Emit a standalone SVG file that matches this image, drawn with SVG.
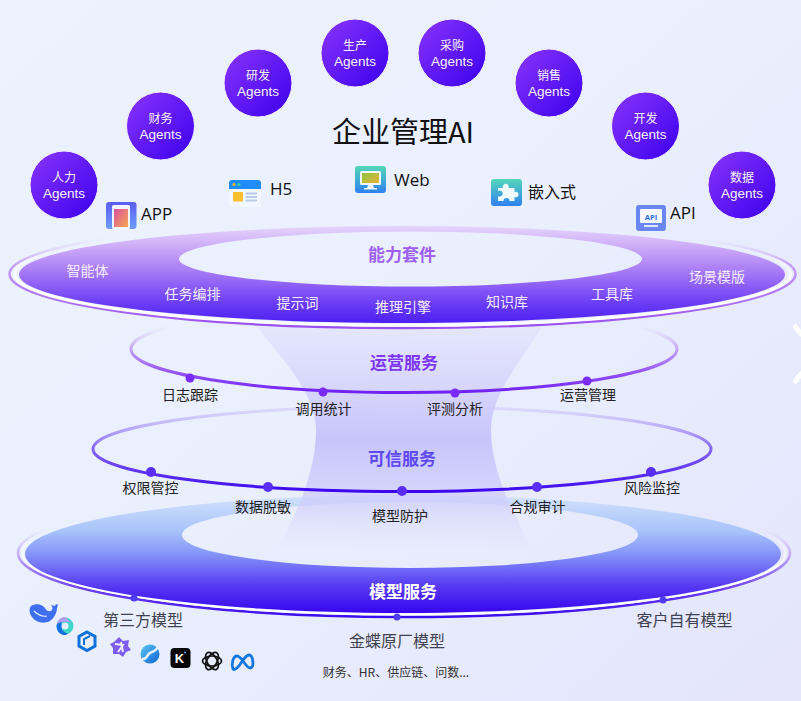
<svg xmlns="http://www.w3.org/2000/svg" width="801" height="701" viewBox="0 0 801 701">
<style>
text{font-family:"Noto Sans CJK SC","Noto Sans",sans-serif;text-anchor:middle}
.ag{fill:#fff;font-size:12px;opacity:.95}
.ag2{font-size:13.500px;font-family:"Liberation Sans",sans-serif}
.ch{fill:#111;font-size:17px;text-anchor:start;font-family:"Open Sans","Noto Sans CJK SC",sans-serif}
.bd{fill:#f4ecff;font-size:14px}
.lb{fill:#222;font-size:14px}
.md{fill:#3f4250;font-size:16px}
.hd{font-size:17px;font-weight:700}
.dot1{fill:#7a2cf6}.dot2{fill:#5a2ef5}.dot3{fill:#4f3bf0}
.circ{fill:url(#ag);stroke:#f3eeff;stroke-width:1}
</style>
<defs>
<linearGradient id="bg" x1="0" y1="0" x2="1" y2="1"><stop offset="0" stop-color="#edf3fd"/><stop offset=".5" stop-color="#e9effd"/><stop offset="1" stop-color="#e4e5fc"/></linearGradient>
<linearGradient id="ag" x1="0" y1="0" x2="1" y2="1"><stop offset="0" stop-color="#8a35fb"/><stop offset="1" stop-color="#3a00ee"/></linearGradient>
<linearGradient id="top" gradientUnits="userSpaceOnUse" x1="0" y1="226" x2="0" y2="323"><stop offset="0" stop-color="#e6d4fb"/><stop offset=".25" stop-color="#c8a4f7"/><stop offset=".5" stop-color="#a274f6"/><stop offset=".8" stop-color="#6a3cf5"/><stop offset="1" stop-color="#4d20f4"/></linearGradient>
<linearGradient id="topS" gradientUnits="userSpaceOnUse" x1="0" y1="238" x2="0" y2="328"><stop offset="0" stop-color="#d8c4f8" stop-opacity="0"/><stop offset=".3" stop-color="#c59ef5"/><stop offset="1" stop-color="#9a4df0"/></linearGradient>
<linearGradient id="topW" gradientUnits="userSpaceOnUse" x1="0" y1="248" x2="0" y2="325"><stop offset="0" stop-color="#fff" stop-opacity="0"/><stop offset=".45" stop-color="#fff" stop-opacity=".9"/></linearGradient>
<linearGradient id="disc" gradientUnits="userSpaceOnUse" x1="0" y1="495" x2="0" y2="613"><stop offset="0" stop-color="#d3e2fc"/><stop offset=".3" stop-color="#a9c4fa"/><stop offset=".5" stop-color="#8595f8"/><stop offset=".75" stop-color="#5a3ff4"/><stop offset="1" stop-color="#3605ee"/></linearGradient>
<linearGradient id="discS" gradientUnits="userSpaceOnUse" x1="0" y1="528" x2="0" y2="617"><stop offset="0" stop-color="#d8c8f8" stop-opacity="0"/><stop offset=".3" stop-color="#c4a8f5"/><stop offset=".7" stop-color="#6a3df2"/><stop offset="1" stop-color="#3a0cee"/></linearGradient>
<linearGradient id="discW" gradientUnits="userSpaceOnUse" x1="0" y1="532" x2="0" y2="615"><stop offset="0" stop-color="#fff" stop-opacity="0"/><stop offset=".45" stop-color="#fff"/></linearGradient>
<linearGradient id="r2" gradientUnits="userSpaceOnUse" x1="0" y1="326" x2="0" y2="393"><stop offset="0" stop-color="#e0d0fa" stop-opacity="0"/><stop offset=".3" stop-color="#cbb0f7"/><stop offset=".65" stop-color="#9a5cf5"/><stop offset="1" stop-color="#6f1ff4"/></linearGradient>
<linearGradient id="r3" gradientUnits="userSpaceOnUse" x1="0" y1="405" x2="0" y2="492"><stop offset="0" stop-color="#d6d0fb" stop-opacity=".5"/><stop offset=".45" stop-color="#8f72f5"/><stop offset="1" stop-color="#3a06ee"/></linearGradient>
<linearGradient id="fun" gradientUnits="userSpaceOnUse" x1="0" y1="325" x2="0" y2="550"><stop offset="0" stop-color="#e4e4fd" stop-opacity=".7"/><stop offset=".5" stop-color="#c6c2fb" stop-opacity=".95"/><stop offset=".8" stop-color="#d0cefb" stop-opacity=".7"/><stop offset="1" stop-color="#e2e2fc" stop-opacity=".05"/></linearGradient>
<linearGradient id="tealb" x1="0" y1="0" x2="0" y2="1"><stop offset="0" stop-color="#53d8b8"/><stop offset="1" stop-color="#2f80f0"/></linearGradient>
<linearGradient id="appb" x1="0" y1="0" x2="0" y2="1"><stop offset="0" stop-color="#5b5cf0"/><stop offset="1" stop-color="#6d9cf8"/></linearGradient>
<linearGradient id="appc" x1="0" y1="0" x2="1" y2="1"><stop offset="0" stop-color="#d84f9f"/><stop offset="1" stop-color="#f8a850"/></linearGradient>
<linearGradient id="webc" x1="0" y1="0" x2="1" y2="1"><stop offset="0" stop-color="#8cc63f"/><stop offset="1" stop-color="#e8b23a"/></linearGradient>
<linearGradient id="logoB" x1="0" y1="0" x2="1" y2="1"><stop offset="0" stop-color="#5fc8f0"/><stop offset="1" stop-color="#0a62d8"/></linearGradient>
</defs>
<rect width="801" height="701" fill="url(#bg)"/>
<path d="M795.500 327 L801 334 M801 374 L795.500 381" stroke="#fff" stroke-width="5" stroke-linecap="round" fill="none"/>

<g id="model-disc">
<ellipse cx="404" cy="553" rx="386" ry="64" fill="none" stroke="url(#discS)" stroke-width="2.500"/>
<ellipse cx="404" cy="553" rx="381.500" ry="61.500" fill="none" stroke="url(#discW)" stroke-width="2"/>
<path fill="url(#disc)" fill-rule="evenodd" d="M25 554a378 59 0 1 0 756 0a378 59 0 1 0-756 0ZM182 535a228 33 0 1 0 456 0a228 33 0 1 0-456 0Z"/>
</g>
<g id="funnel"><path fill="url(#fun)" d="M257 327C285 362 316 395 316 430C316 470 298 512 277 548L532 548C512 512 491 470 491 430C491 395 520 362 542 327Z"/></g>

<g id="connectors" fill="none">
<ellipse cx="404" cy="349" rx="273" ry="43.500" stroke="url(#r2)" stroke-width="3"/>
<ellipse cx="402" cy="449" rx="309" ry="42.500" stroke="url(#r3)" stroke-width="3"/>
</g>

<g id="capability-ring">
<ellipse cx="402.500" cy="274" rx="393" ry="54" fill="none" stroke="url(#topS)" stroke-width="2.500"/>
<ellipse cx="402.500" cy="274" rx="388" ry="51.500" fill="none" stroke="url(#topW)" stroke-width="3"/>
<path fill="url(#top)" fill-rule="evenodd" d="M19 274.500a383 48.500 0 1 0 766 0a383 48.500 0 1 0-766 0ZM179 259a231.500 27.500 0 1 0 463 0a231.500 27.500 0 1 0-463 0Z"/>
<text class="hd" x="402" y="261" fill="#9f5ff0">能力套件</text>
<text class="bd" x="87.500" y="276">智能体</text>
<text class="bd" x="192.500" y="299">任务编排</text>
<text class="bd" x="297.500" y="308">提示词</text>
<text class="bd" x="403" y="312">推理引擎</text>
<text class="bd" x="507" y="307">知识库</text>
<text class="bd" x="612" y="299">工具库</text>
<text class="bd" x="717" y="282">场景模版</text>
</g>

<g id="ops-service">
<text class="hd" x="404" y="369" fill="#7d37f2">运营服务</text>
<circle class="dot1" cx="190" cy="378" r="4.500"/><circle class="dot1" cx="323" cy="392" r="4.500"/><circle class="dot1" cx="455" cy="393" r="4.500"/><circle class="dot1" cx="587" cy="381" r="4.500"/>
<text class="lb" x="190" y="400">日志跟踪</text><text class="lb" x="323.500" y="414">调用统计</text><text class="lb" x="455" y="414">评测分析</text><text class="lb" x="588" y="400">运营管理</text>
</g>
<g id="trust-service">
<text class="hd" x="402" y="465" fill="#5f48f0">可信服务</text>
<circle class="dot2" cx="151" cy="472" r="5"/><circle class="dot2" cx="268" cy="487" r="5"/><circle class="dot2" cx="402" cy="491" r="5"/><circle class="dot2" cx="537" cy="487" r="5"/><circle class="dot2" cx="651" cy="472" r="5"/>
<text class="lb" x="150.500" y="493">权限管控</text><text class="lb" x="263" y="512">数据脱敏</text><text class="lb" x="400" y="521">模型防护</text><text class="lb" x="537.500" y="512">合规审计</text><text class="lb" x="652" y="493">风险监控</text>
</g>
<g id="model-service">
<text class="hd" x="403" y="598" fill="#fff">模型服务</text>
<circle class="dot3" cx="134" cy="598" r="3.500"/><circle class="dot3" cx="397" cy="617" r="3.500"/><circle class="dot3" cx="663" cy="600" r="3.500"/>
<text class="md" x="143" y="625.500">第三方模型</text><text class="md" x="397" y="647">金蝶原厂模型</text><text class="md" x="684.500" y="626">客户自有模型</text>
<text x="396" y="677" fill="#333" font-size="12">财务、HR、供应链、问数...</text>
</g>

<text id="title" x="403" y="143" fill="#111" font-size="29">企业管理AI</text>

<g id="agent-hr"><circle class="circ" cx="64" cy="185" r="34"/><text class="ag" x="64" y="181.800">人力<tspan class="ag2" x="64" dy="15.800">Agents</tspan></text></g>
<g id="agent-fin"><circle class="circ" cx="160.500" cy="126" r="34"/><text class="ag" x="160.500" y="122.800">财务<tspan class="ag2" x="160.500" dy="15.800">Agents</tspan></text></g>
<g id="agent-rd"><circle class="circ" cx="258" cy="83" r="34"/><text class="ag" x="258" y="79.800">研发<tspan class="ag2" x="258" dy="15.800">Agents</tspan></text></g>
<g id="agent-prod"><circle class="circ" cx="355" cy="53" r="34"/><text class="ag" x="355" y="49.800">生产<tspan class="ag2" x="355" dy="15.800">Agents</tspan></text></g>
<g id="agent-buy"><circle class="circ" cx="452" cy="53" r="34"/><text class="ag" x="452" y="49.800">采购<tspan class="ag2" x="452" dy="15.800">Agents</tspan></text></g>
<g id="agent-sale"><circle class="circ" cx="549" cy="83" r="34"/><text class="ag" x="549" y="79.800">销售<tspan class="ag2" x="549" dy="15.800">Agents</tspan></text></g>
<g id="agent-dev"><circle class="circ" cx="645.500" cy="126" r="34"/><text class="ag" x="645.500" y="122.800">开发<tspan class="ag2" x="645.500" dy="15.800">Agents</tspan></text></g>
<g id="agent-data"><circle class="circ" cx="742" cy="185" r="34"/><text class="ag" x="742" y="181.800">数据<tspan class="ag2" x="742" dy="15.800">Agents</tspan></text></g>

<g id="ch-app"><rect x="106" y="202" width="30.500" height="27" rx="3" fill="url(#appb)"/><rect x="112" y="205" width="18" height="24" rx="1.500" fill="#f2f4fe"/><rect x="114" y="209" width="14" height="18" fill="url(#appc)"/><text class="ch" x="141" y="220">APP</text></g>
<g id="ch-h5"><rect x="229" y="180" width="32" height="27" rx="3" fill="#f2f6fe"/><path d="M229 189v-6a3 3 0 0 1 3-3h26a3 3 0 0 1 3 3v6Z" fill="#1f8df5"/><circle cx="234" cy="184.500" r="1.500" fill="#f5b82e"/><circle cx="239" cy="184.500" r="1.500" fill="#3fd0a8"/><rect x="233" y="192" width="10" height="9.500" rx="1" fill="#fbbf2d"/><path d="M245.500 193.500H257M245.500 197H257M245.500 200.500H257" stroke="#b9cbe8" stroke-width="1.800"/><text class="ch" x="270" y="195">H5</text></g>
<g id="ch-web"><rect x="355" y="166" width="31" height="27" rx="3" fill="url(#tealb)"/><rect x="360" y="171" width="21" height="14" rx="1.500" fill="#f2f6fe"/><rect x="362" y="173" width="17" height="10" fill="url(#webc)"/><path d="M368 185h5l1 3h3v1.500h-13v-1.500h3Z" fill="#eef3fd"/><text class="ch" x="394" y="186">Web</text></g>
<g id="ch-embed"><rect x="491" y="179" width="31" height="27" rx="3" fill="url(#tealb)"/><path d="M498 188h5a3 3 0 1 1 5.500 0h6v4a2.800 2.800 0 1 1 0 5v4h-5a3 3 0 1 0-6 0h-5.500v-5a3 3 0 1 0 0-5Z" fill="#eefafc"/><text class="ch" x="528" y="198" style="font-size:16px">嵌入式</text></g>
<g id="ch-api"><rect x="636" y="205" width="30" height="26" rx="3" fill="#6a86f3"/><rect x="640" y="209" width="22" height="14" rx="1" fill="#f4f7ff"/><path d="M644 226h14" stroke="#eef2ff" stroke-width="1.800"/><text x="651" y="219.500" fill="#2f6fe8" font-size="7.500" font-weight="700" style="font-family:'Open Sans',sans-serif">API</text><text class="ch" x="670" y="219">API</text></g>

<g id="model-logos">
<path d="M31 606c5-3 11-2 14 2c2 4 5 4 7 2c1-2 0-4-1-5l4 1l1-2l2 1l-1 3c0 5-3 10-7 13c-6 3-14 2-18-4c-3-4-3-9-1-11Z" fill="#3d6ff0"/><path d="M34 611c4 4 8 6 13 5" stroke="#e6eefc" stroke-width="1.200" fill="none"/>
<circle cx="65" cy="626" r="8.500" fill="#3ed6c8"/><path d="M57 625a8 8 0 0 1 8-8l7 6c-5-2-11-2-15 2Z" fill="#b59cf0"/><path d="M57 624a8.500 8.500 0 0 0 9 11l2-2a6 6 0 0 1-6-8l-1-3Z" fill="#1270e0"/><circle cx="65" cy="626" r="3.500" fill="#e6eefc"/>
<path d="M87 632l8 4.500v9.500l-8 4.500l-8-4.500v-9.500Z" fill="none" stroke="#0f72dc" stroke-width="3"/><path d="M84 645v-6l6-3" fill="none" stroke="#0f72dc" stroke-width="2"/>
<path d="M119 637l4 4l6-1l-1 6l3 4l-5 2l-3 5l-4-3l-6 0l0-6l-3-4l4-2Z" fill="#7f5cf0"/><path d="M115 644l8 1l-5 7M121 642l2 10" stroke="#f0ecff" stroke-width="2" fill="none"/>
<circle cx="150" cy="654" r="9.500" fill="url(#logoB)"/><path d="M142 659c5 1 5-5 8-6c4-2 6-2 8-6" stroke="#e4f2fd" stroke-width="2.500" fill="none"/>
<rect x="170.500" y="648" width="20" height="20" rx="4" fill="#060608"/><text x="179.500" y="663" fill="#fff" font-size="13" font-weight="700" style="font-family:'Liberation Sans',sans-serif">K</text><circle cx="185" cy="652.500" r="1" fill="#4aa8ff"/>
<g fill="none" stroke="#111" stroke-width="1.700"><ellipse cx="212" cy="661" rx="9.500" ry="5"/><ellipse cx="212" cy="661" rx="9.500" ry="5" transform="rotate(60 212 661)"/><ellipse cx="212" cy="661" rx="9.500" ry="5" transform="rotate(120 212 661)"/></g>
<path d="M233 669c-2-5 0-13 4-13c5 0 8 11 13 12c5 0 3-13-1-13c-4 0-8 9-11 12c-2 2-4 3-5 2Z" fill="none" stroke="#1278e0" stroke-width="2.800"/>
</g>
</svg>
